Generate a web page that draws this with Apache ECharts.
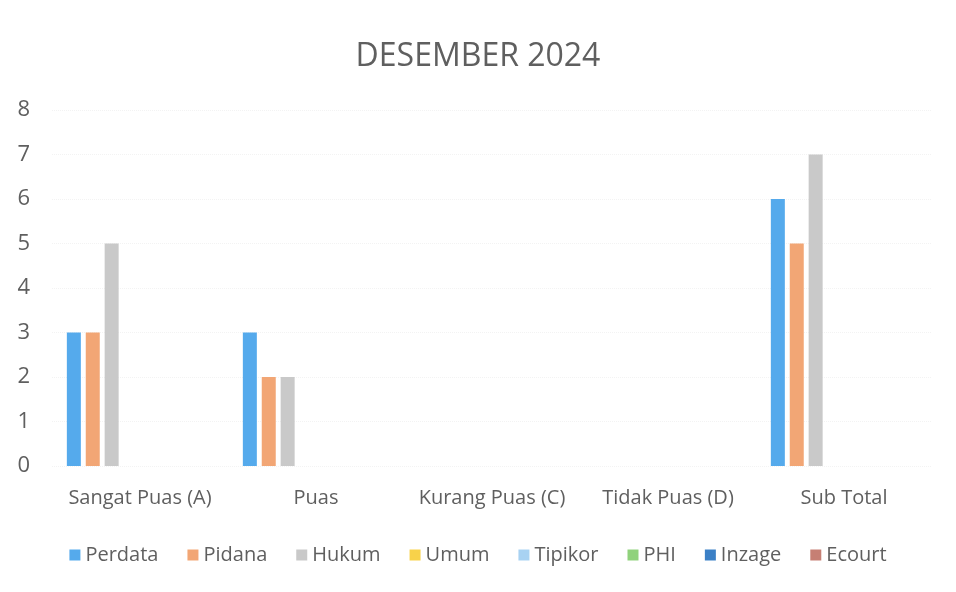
<!DOCTYPE html>
<html>
<head>
<meta charset="utf-8">
<script src="https://cdn.jsdelivr.net/npm/echarts@6/dist/echarts.min.js"></script>
<style>
  html, body { margin: 0; padding: 0; background: #fff; }
  #chart { width: 956px; height: 592px; }
</style>
</head>
<body>
<div id="chart"></div>
<script>
const categories = ['Sangat Puas (A)', 'Puas', 'Kurang Puas (C)', 'Tidak Puas (D)', 'Sub Total'];
const seriesNames = ['Perdata', 'Pidana', 'Hukum', 'Umum', 'Tipikor', 'PHI', 'Inzage', 'Ecourt'];
const perdata = [3, 3, 0, 0, 6];
const pidana = [3, 2, 0, 0, 5];
const hukum = [5, 2, 0, 0, 7];
const umum = [0, 0, 0, 0, 0];
const tipikor = [0, 0, 0, 0, 0];
const phi = [0, 0, 0, 0, 0];
const inzage = [0, 0, 0, 0, 0];
const ecourt = [0, 0, 0, 0, 0];
const yTicks = [0, 1, 2, 3, 4, 5, 6, 7, 8];

const values = [perdata, pidana, hukum, umum, tipikor, phi, inzage, ecourt];
const colors = ['#55aaec', '#f2a675', '#c9c9c9', '#f8d24a', '#a8d2f2', '#90d27c', '#3b80c6', '#c67f74'];

let chart = echarts.init(document.getElementById('chart'));
let option = {
  color: colors,
  animation: false,
  title: {
    text: 'DESEMBER 2024',
    left: 'center',
    top: 36,
    textStyle: {
      color: '#5f5f5f',
      fontSize: 32,
      fontWeight: 'normal',
      fontFamily: 'Open Sans'
    }
  },
  legend: {
    data: seriesNames,
    bottom: 22,
    left: 'center',
    icon: 'rect',
    itemWidth: 11,
    itemHeight: 11,
    itemGap: 29,
    textStyle: {
      color: '#5f5f5f',
      fontSize: 20,
      fontFamily: 'Open Sans'
    }
  },
  grid: {
    left: 52,
    right: 24,
    top: 110,
    bottom: 126
  },
  xAxis: {
    type: 'category',
    data: categories,
    axisLine: { show: false },
    axisTick: { show: false },
    axisLabel: {
      interval: 0,
      color: '#5f5f5f',
      fontSize: 20,
      margin: 22,
      fontFamily: 'Open Sans'
    }
  },
  yAxis: {
    type: 'value',
    min: yTicks[0],
    max: yTicks[yTicks.length - 1],
    interval: 1,
    axisLine: { show: false },
    axisTick: { show: false },
    axisLabel: {
      color: '#5f5f5f',
      fontSize: 22,
      margin: 22,
      fontFamily: 'Open Sans'
    },
    splitLine: {
      lineStyle: { color: '#f3f3f3', type: 'dotted' }
    }
  },
  series: seriesNames.map((name, i) => {
    return {
      name: name,
      type: 'bar',
      barWidth: 14,
      barGap: '35%',
      data: values[i]
    }
  })
};
chart.setOption(option);
</script>
</body>
</html>
